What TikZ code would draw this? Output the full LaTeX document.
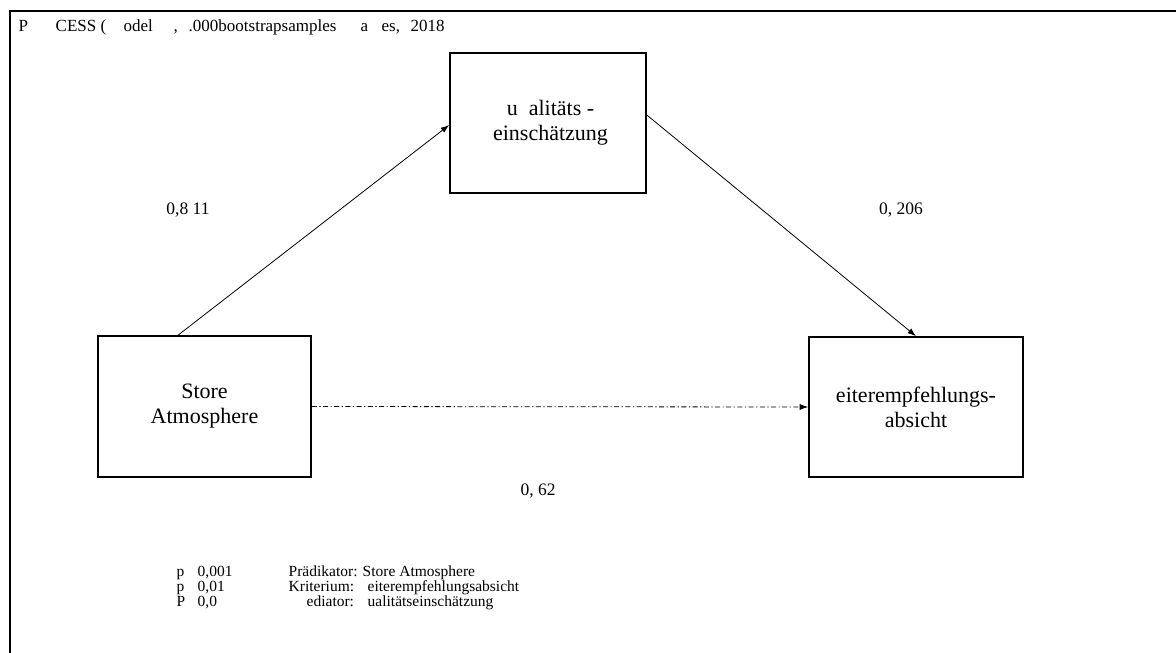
\documentclass[tikz,border=0pt]{standalone}
\usepackage{fontspec}
\setmainfont{Liberation Serif}
\usetikzlibrary{arrows.meta}
\newcommand\putat[2]{\makebox[0pt][l]{\hspace{#1}#2}}
\begin{document}
\begin{tikzpicture}[x=1pt,y=-1pt,
  box/.style={draw,line width=1.6pt,inner sep=0pt,align=center,font=\fontsize{22}{25}\selectfont},
  lab/.style={font=\fontsize{17.5}{20}\selectfont,inner sep=0pt},
  leg/.style={font=\fontsize{15.5}{15}\selectfont,inner sep=0pt,anchor=base west},
  hdr/.style={font=\fontsize{17}{18}\selectfont,inner sep=0pt,anchor=base west},
  arr/.style={line width=0.8pt,-{Latex[length=8.5pt,width=6pt]}},
  frameline/.style={line width=2pt}]
\useasboundingbox (0,0) rectangle (1176,653);
\draw[frameline] (10,653) -- (10,11) -- (1176,11);

\node[hdr] (title) at (18,31) {\putat{0pt}{P}\putat{37pt}{CESS (}\putat{105pt}{odel}\putat{155pt}{,}\putat{170pt}{.000bootstrapsamples}\putat{342pt}{a}\putat{363pt}{es,}\putat{392pt}{2018}};

\node[box,minimum width=213pt,minimum height=141pt] (store) at (204.5,406.5) {Store\\Atmosphere};
\node[box,minimum width=196pt,minimum height=140pt] (qual) at (548,123) {\hspace{5pt}u\hspace{0.5em}alitäts -\\\hspace{5pt}einschätzung};
\node[box,minimum width=214pt,minimum height=140pt] (weiter) at (916,407) {eiterempfehlungs-\\absicht};

\draw[arr] (177,336) -- (qual.west |- 0,125);
\draw[arr] (qual.east |- 0,115) -- (weiter.north);
\draw[arr,dash pattern=on 5pt off 2.5pt on 1.2pt off 2.5pt] (store.east) -- (weiter.west);

\node[lab] (l1) at (188,210) {0,8 11};
\node[lab] (l2) at (901,210) {0, 206};
\node[lab] (l3) at (538,491) {0, 62};

\node[leg] (r1) at (176,576) {\putat{0pt}{p}\putat{21pt}{0,001}\putat{112pt}{Prädikator: Store Atmosphere}};
\node[leg] (r2) at (176,591) {\putat{0pt}{p}\putat{21pt}{0,01}\putat{112pt}{Kriterium:}\putat{191pt}{eiterempfehlungsabsicht}};
\node[leg] (r3) at (176,606) {\putat{0pt}{P}\putat{21pt}{0,0}\putat{130pt}{ediator:}\putat{191pt}{ualitätseinschätzung}};
\end{tikzpicture}
\end{document}
